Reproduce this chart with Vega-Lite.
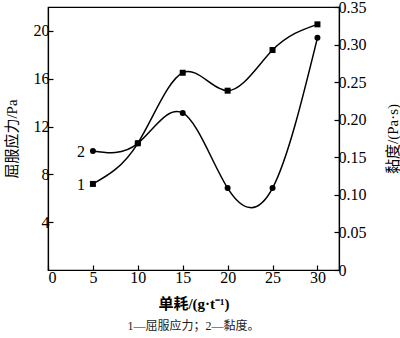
{
  "$schema": "https://vega.github.io/schema/vega-lite/v6.json",
  "width": 291,
  "height": 263,
  "autosize": {"type": "none"},
  "padding": {"left": 48, "top": 7, "right": 61, "bottom": 68},
  "background": "white",
  "config": {
    "view": {"stroke": "black", "strokeWidth": 1.2},
    "font": "Liberation Serif",
    "axis": {
      "domainColor": "black", "domainWidth": 1.2, "tickColor": "black", "tickWidth": 1.2,
      "tickSize": -5, "grid": false, "labelFont": "Liberation Serif", "labelFontSize": 16,
      "labelColor": "black", "titleColor": "black", "titleFont": "Liberation Serif, Noto Sans CJK SC",
      "titleFontSize": 15, "titleFontWeight": "normal", "labelPadding": 4
    }
  },
  "title": {
    "text": "1—屈服应力；2—黏度。",
    "orient": "bottom",
    "anchor": "middle",
    "font": "Liberation Serif, Noto Sans CJK SC",
    "fontSize": 12,
    "fontWeight": "normal",
    "color": "#222",
    "offset": 10
  },
  "datasets": {
    "yield": [
      {"x": 5, "y": 7.2}, {"x": 10, "y": 10.6}, {"x": 15, "y": 16.5},
      {"x": 20, "y": 15.0}, {"x": 25, "y": 18.4}, {"x": 30, "y": 20.55}
    ],
    "visc": [
      {"x": 5, "v": 0.1585}, {"x": 10, "v": 0.1686}, {"x": 15, "v": 0.209},
      {"x": 20, "v": 0.109}, {"x": 25, "v": 0.109}, {"x": 30, "v": 0.309}
    ]
  },
  "layer": [
    {
      "data": {"name": "yield"},
      "encoding": {
        "x": {"field": "x", "type": "quantitative", "scale": {"domain": [0, 32.4], "nice": false, "zero": true},
          "axis": {"values": [0, 5, 10, 15, 20, 25, 30], "title": "单耗/(g·t⁻¹)", "titleFontWeight": "bold", "titleFont": "Liberation Serif, Noto Sans CJK SC", "titlePadding": 11}},
        "y": {"field": "y", "type": "quantitative", "scale": {"domain": [0, 22], "nice": false},
          "axis": {"values": [4, 8, 12, 16, 20], "title": "屈服应力/Pa", "titlePadding": 14}}
      },
      "layer": [
        {"mark": {"type": "line", "interpolate": "natural", "color": "black", "strokeWidth": 1.5}},
        {"mark": {"type": "square", "color": "black", "opacity": 1, "size": 36, "filled": true}},
        {"transform": [{"filter": "datum.x == 5"}],
         "mark": {"type": "text", "text": "1", "dx": -12, "dy": 1, "fontSize": 16, "font": "Liberation Serif", "color": "black"}}
      ]
    },
    {
      "data": {"name": "visc"},
      "encoding": {
        "x": {"field": "x", "type": "quantitative", "scale": {"domain": [0, 32.4], "nice": false}},
        "y": {"field": "v", "type": "quantitative", "scale": {"domain": [0, 0.35], "nice": false},
          "axis": {"orient": "right", "values": [0, 0.05, 0.1, 0.15, 0.2, 0.25, 0.3, 0.35],
            "labelExpr": "datum.value == 0 ? '0' : format(datum.value, '.2f')",
            "title": "黏度/(Pa·s)", "titleAngle": 270, "titlePadding": 34}}
      },
      "layer": [
        {"mark": {"type": "line", "interpolate": "natural", "color": "black", "strokeWidth": 1.5}},
        {"mark": {"type": "circle", "color": "black", "opacity": 1, "size": 36}},
        {"transform": [{"filter": "datum.x == 5"}],
         "mark": {"type": "text", "text": "2", "dx": -12, "dy": 1, "fontSize": 16, "font": "Liberation Serif", "color": "black"}}
      ]
    }
  ],
  "resolve": {"scale": {"y": "independent"}}
}
